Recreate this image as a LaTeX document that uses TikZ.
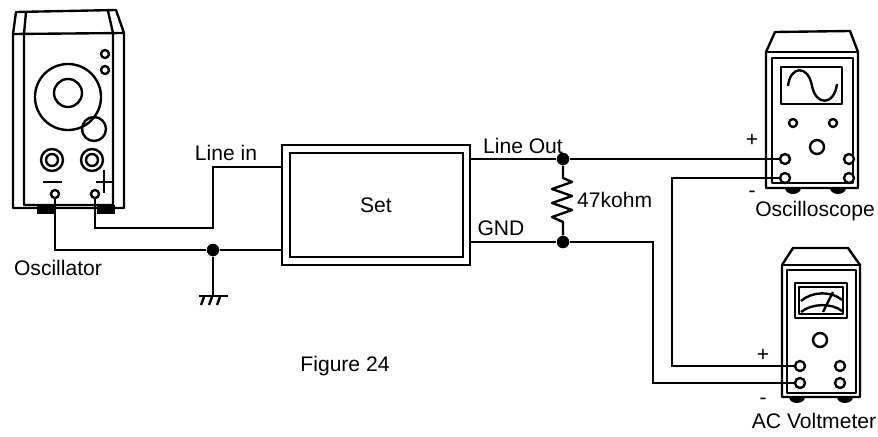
\documentclass[tikz,border=0pt]{standalone}
\usepackage{fontspec}
\setmainfont{Liberation Sans}
\tikzset{
  wire/.style={line width=1.6pt},
  case/.style={line width=1.35pt, line join=round},
  jack/.style={circle, draw, line width=1.35pt, inner sep=0pt, minimum size=0.2cm, fill=white},
  junction/.style={circle, fill, inner sep=0pt, minimum size=0.25cm},
  tag/.style={font=\fontsize{12}{14}\selectfont, inner sep=1pt},
  setbox/.style={draw, line width=1.6pt, minimum width=3.76cm, minimum height=2.4cm, inner sep=0pt, font=\fontsize{12}{14}\selectfont}
}
\begin{document}
\begin{tikzpicture}[x=0.02cm, y=-0.02cm]
\useasboundingbox (0,0) rectangle (878,436);

\draw[case] (13,208) -- (13,34) -- (16,12) -- (116,10) -- (124,33) -- (124,208) -- cycle;
\draw[case] (13,34) -- (124,33);
\draw[case] (26,12) -- (24,34) -- (24,205) -- (113,205) -- (113,33) -- (108,11);
\fill (37,205) rectangle (55,214);
\fill (97,205) rectangle (115,214);
\draw[case] (68,97) circle (33);
\draw[case] (68,93) circle (14);
\draw[case] (94,129) circle (12);
\draw[case] (105,54) circle (4) (105,70) circle (4);
\draw[case] (52,160) circle (11) (52,160) circle (6);
\draw[case] (92,160) circle (11) (92,160) circle (6);
\draw[case] (43,182) -- (62,182);
\draw[case] (96,182) -- (112,182) (104,170) -- (104,193);
\node[jack, minimum size=0.16cm] (oscneg) at (55,194) {};
\node[jack, minimum size=0.16cm] (oscpos) at (95,194) {};
\node[tag] (osclabel) at (58,268) {Oscillator};

\node[setbox] (set) at (376,205) {Set};
\draw[line width=1.6pt] (290,153) rectangle (463,257);
\coordinate (setin) at (282,167);
\coordinate (setcom) at (282,250);
\coordinate (setout) at (470,159);
\coordinate (setgnd) at (470,242);
\node[tag] (inlabel) at (226,153) {Line in};
\node[tag] (outlabel) at (523,146) {Line Out};
\node[tag] (gndlabel) at (501,228) {GND};

\node[junction] (gnd) at (213,250) {};
\draw[wire] (oscpos) |- (213,228) |- (setin);
\draw[wire] (oscneg) |- (gnd) -- (setcom);
\coordinate (earth) at (213,296);
\draw[wire] (gnd) -- (earth);
\draw[wire] (199,296) -- (228,296);
\draw[line width=1.35pt] (204,297) -- (201,305) (212,297) -- (209,305) (220,297) -- (217,305);

\node[junction] (outj) at (563,159) {};
\node[junction] (gndj) at (563,242) {};
\draw[case] (outj) -- (563,178) -- (572,182) -- (552,189) -- (572,196) -- (552,203) -- (572,210) -- (552,217) -- (563,222) -- (gndj);
\node[tag, anchor=west] (rlabel) at (575,200) {47kohm};

\draw[case] (766,188) -- (766,52) -- (775,32) -- (850,31) -- (858,52) -- (858,188) -- cycle;
\draw[case] (766,52) -- (858,52);
\draw[case] (772,58) rectangle (853,183);
\draw[case] (781,67) rectangle (842,104);
\draw[case] (788,86) .. controls (790,66) and (808,64) .. (812,86) .. controls (816,106) and (834,106) .. (837,84);
\draw[case] (793,123) circle (4) (833,123) circle (4) (817,147) circle (7);
\node[jack] (scopepos) at (785,159) {};
\node[jack] (scopeneg) at (785,178) {};
\node[jack] (scopeaux) at (849,159) {};
\node[jack] (scopecom) at (849,178) {};
\fill (785,188) arc[start angle=180, end angle=0, x radius=8, y radius=6];
\fill (830,188) arc[start angle=180, end angle=0, x radius=8, y radius=6];
\node[tag] (scopeplus) at (752,140) {+};
\node[tag] (scopeminus) at (752,194) {-};
\node[tag] (scopelabel) at (815,211) {Oscilloscope};

\draw[case] (782,397) -- (782,265) -- (793,248) -- (848,248) -- (860,265) -- (860,397) -- cycle;
\draw[case] (782,265) -- (860,265);
\draw[case] (787,270) rectangle (856,393);
\draw[case] (795,283) rectangle (847,318);
\draw[case] (799,287) rectangle (843,314);
\draw[case] (801,301) .. controls (812,291) and (832,291) .. (842,300);
\draw[case] (801,312) .. controls (812,303) and (832,303) .. (842,311);
\draw[case] (823,312) -- (833,292);
\draw[case] (820,340) circle (7);
\node[jack] (vmpos) at (800,366) {};
\node[jack] (vmneg) at (800,383) {};
\node[jack] (vmaux) at (840,366) {};
\node[jack] (vmcom) at (840,383) {};
\fill (789,397) arc[start angle=180, end angle=0, x radius=8, y radius=6];
\fill (837,397) arc[start angle=180, end angle=0, x radius=8, y radius=6];
\node[tag] (vmplus) at (763,355) {+};
\node[tag] (vmminus) at (763,401) {-};
\node[tag] (vmlabel) at (814,421) {AC Voltmeter};

\draw[wire] (setout) -- (outj) -- (scopepos);
\draw[wire] (setgnd) -- (gndj) -| (653,383) -- (vmneg);
\draw[wire] (scopeneg) -| (672,366) -- (vmpos);

\node[tag] (caption) at (345,366) {Figure 24};
\end{tikzpicture}
\end{document}
